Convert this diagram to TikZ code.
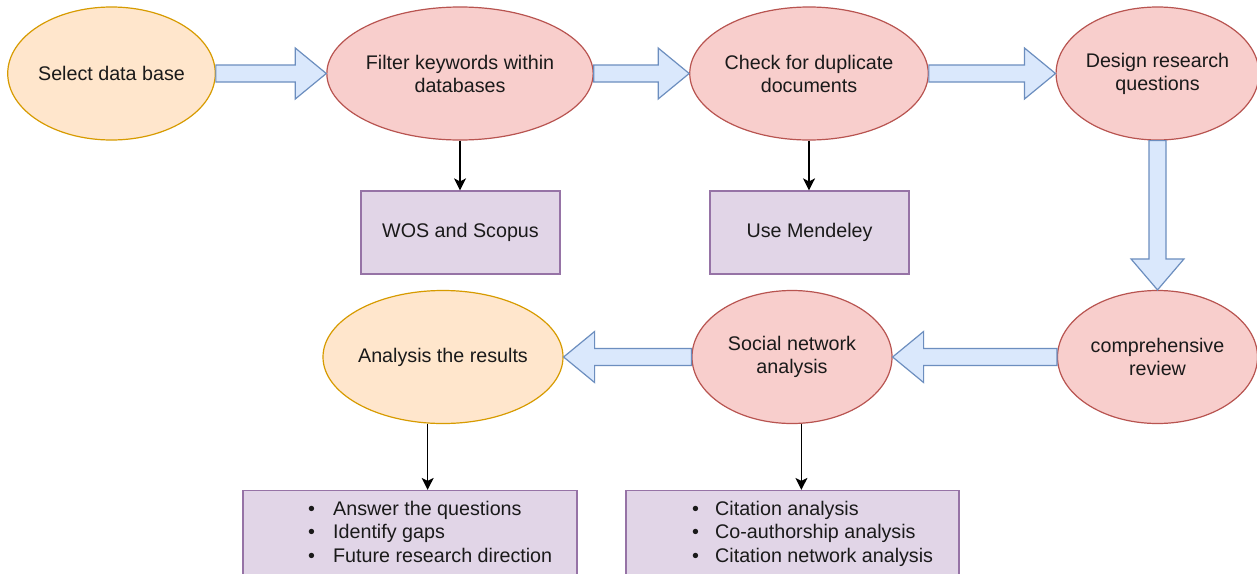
\documentclass[tikz,border=0pt]{standalone}
\usepackage{fontspec}
\setmainfont{Liberation Sans}
\usetikzlibrary{shapes.geometric,arrows.meta,calc}
\definecolor{orfill}{HTML}{FFE6CC}
\definecolor{ordraw}{HTML}{D79B00}
\definecolor{pkfill}{HTML}{F8CECC}
\definecolor{pkdraw}{HTML}{B85450}
\definecolor{pufill}{HTML}{E1D5E7}
\definecolor{pudraw}{HTML}{9673A6}
\definecolor{blfill}{HTML}{DAE8FC}
\definecolor{bldraw}{HTML}{6C8EBF}
\definecolor{txtcol}{HTML}{1A1A1A}
\newcommand\barR[2]{\draw[barrow] let \p1=(#1), \p2=(#2) in (\x1,\y1+8.5pt) -- (\x2-31pt,\y1+8.5pt) -- (\x2-31pt,\y1+25.5pt) -- (\x2,\y1) -- (\x2-31pt,\y1-25.5pt) -- (\x2-31pt,\y1-8.5pt) -- (\x1,\y1-8.5pt) -- cycle;}
\newcommand\barL[2]{\draw[barrow] let \p1=(#1), \p2=(#2) in (\x1,\y1+8.5pt) -- (\x2+31pt,\y1+8.5pt) -- (\x2+31pt,\y1+25.5pt) -- (\x2,\y1) -- (\x2+31pt,\y1-25.5pt) -- (\x2+31pt,\y1-8.5pt) -- (\x1,\y1-8.5pt) -- cycle;}
\newcommand\barD[2]{\draw[barrow] let \p1=(#1), \p2=(#2) in (\x1-8.5pt,\y1) -- (\x1-8.5pt,\y2+31pt) -- (\x1-26.5pt,\y2+31pt) -- (\x1,\y2) -- (\x1+26.5pt,\y2+31pt) -- (\x1+8.5pt,\y2+31pt) -- (\x1+8.5pt,\y1) -- cycle;}
\begin{document}
\begin{tikzpicture}[x=1pt,y=-1pt,
  every node/.style={font=\fontsize{19.7}{23}\selectfont, text=txtcol},
  oval/.style={ellipse, draw, line width=1.2pt, minimum width=200pt, minimum height=133pt, inner sep=0pt, align=center},
  orangeoval/.style={oval, fill=orfill, draw=ordraw},
  pinkoval/.style={oval, fill=pkfill, draw=pkdraw},
  pbox/.style={rectangle, draw=pudraw, fill=pufill, line width=1.2pt, minimum height=83pt, inner sep=0pt, align=center},
  litem/.style={anchor=base west, inner sep=0pt},
  barrow/.style={draw=bldraw, fill=blfill, line width=1.2pt, line join=miter},
  tip/.style={line width=1.3pt, -{Stealth[length=12pt,width=12pt,inset=3pt]}}
]
\useasboundingbox (0,0) rectangle (1257,573);
\clip (0,0) rectangle (1257,573);
\fill[white] (0,0) rectangle (1257,573);

\node[orangeoval] (E1) at (111.5,73.5) {Select data base};
\node[pinkoval] (E2) at (460,73.5) {Filter keywords within\\databases};
\node[pinkoval] (E3) at (809,73.5) {Check for duplicate\\documents};
\node[pinkoval] (E4) at (1157.5,73.5) {Design research\\questions};
\node[pinkoval] (E5) at (1157.5,357) {comprehensive\\review};
\node[pinkoval] (E6) at (792,357) {Social network\\analysis};
\node[orangeoval] (E7) at (443,357) {Analysis the results};

\node[pbox, minimum width=199pt] (B1) at (460.5,232.5) {WOS and Scopus};
\node[pbox, minimum width=199pt] (B2) at (809.5,232.5) {Use Mendeley};
\node[pbox, minimum width=334pt, minimum height=90pt] (B3) at (410,535.5) {};
\node[pbox, minimum width=333pt, minimum height=90pt] (B4) at (792.5,535.5) {};

\node[litem] (L1) at (308,515) {\makebox[25pt][l]{\textbullet}Answer the questions};
\node[litem] (L2) at (308,538.7) {\makebox[25pt][l]{\textbullet}Identify gaps};
\node[litem] (L3) at (308,562.4) {\makebox[25pt][l]{\textbullet}Future research direction};
\node[litem] (M1) at (692,515) {\makebox[23pt][l]{\textbullet}Citation analysis};
\node[litem] (M2) at (692,538.7) {\makebox[23pt][l]{\textbullet}Co-authorship analysis};
\node[litem] (M3) at (692,562.4) {\makebox[23pt][l]{\textbullet}Citation network analysis};

\draw[tip] (E2.south) -- (E2.south |- B1.north);
\draw[tip] (E3.south) -- (E3.south |- B2.north);
\draw[tip] (E7.257) -- (E7.257 |- B3.north);
\draw[tip] (E6.278) -- (E6.278 |- B4.north);

\barR{E1.east}{E2.west}
\barR{E2.east}{E3.west}
\barR{E3.east}{E4.west}
\barD{E4.south}{E5.north}
\barL{E5.west}{E6.east}
\barL{E6.west}{E7.east}
\end{tikzpicture}
\end{document}
